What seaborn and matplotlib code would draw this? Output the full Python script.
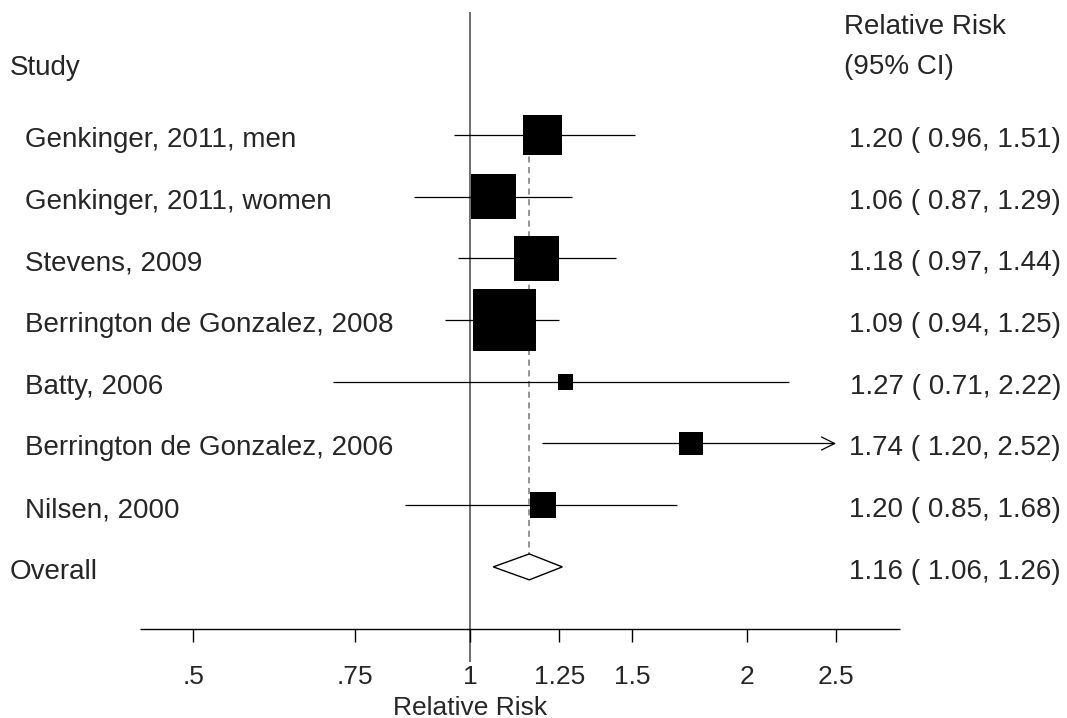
import numpy as np
import matplotlib
matplotlib.use("Agg")
import matplotlib.pyplot as plt
import seaborn as sns

# ---- data ----
studies = ["Genkinger, 2011, men", "Genkinger, 2011, women", "Stevens, 2009",
           "Berrington de Gonzalez, 2008", "Batty, 2006",
           "Berrington de Gonzalez, 2006", "Nilsen, 2000"]
rr = [1.20, 1.06, 1.18, 1.09, 1.27, 1.74, 1.20]
lower = [0.96, 0.87, 0.97, 0.94, 0.71, 1.20, 0.85]
upper = [1.51, 1.29, 1.44, 1.25, 2.22, 2.52, 1.68]
weights = [14.0, 18.5, 18.4, 35.4, 2.2, 5.2, 6.2]  # % weight, from box areas

overall_rr = 1.16
overall_lower = 1.06
overall_upper = 1.26

tick_vals = [0.5, 0.75, 1, 1.25, 1.5, 2, 2.5]
tick_labels = [".5", ".75", "1", "1.25", "1.5", "2", "2.5"]
ci_max = 2.5  # CIs beyond this get an arrow

# ---- layout (pixel geometry of the original) ----
W, H = 1067, 718
x0_px, px_per_ln = 470, 399.5
row0_px, row_px = 135, 61.7

sns.set_style("white")
plt.rcParams["font.family"] = ["Liberation Sans", "DejaVu Sans"]

fig = plt.figure(figsize=(W / 100, H / 100), dpi=100)
ax = fig.add_axes([0, 0, 1, 1])
ax.set_xscale("log")
ax.set_xlim(np.exp(-x0_px / px_per_ln), np.exp((W - x0_px) / px_per_ln))
ax.set_ylim((H - row0_px) / row_px, -row0_px / row_px)
ax.axis("off")

rows = np.arange(len(studies))
overall_row = len(studies)
axis_row = overall_row + 1
ytr = ax.get_yaxis_transform()

# null line and overall dashed line
ax.vlines(1, -1.99, axis_row + 0.54, color="#555555", lw=1.2, zorder=1)
ax.vlines(overall_rr, 0, overall_row, color="#777777", lw=1.1,
          linestyles=(0, (4, 3)), zorder=1)

# confidence intervals
for r, lo, hi in zip(rows, lower, upper):
    if hi > ci_max:
        ax.annotate("", xy=(ci_max, r), xytext=(lo, r),
                    arrowprops=dict(arrowstyle="->,head_length=0.95,head_width=0.47",
                                    lw=0.9, color="black", shrinkA=0, shrinkB=0,
                                    mutation_scale=10), zorder=2)
    else:
        ax.hlines(r, lo, hi, color="black", lw=0.9, zorder=2)

# weighted boxes
k = 57.15
sns.scatterplot(x=rr, y=rows, size=weights, sizes=(k * min(weights), k * max(weights)),
                size_norm=(min(weights), max(weights)), marker="s", color="black",
                linewidth=0, legend=False, ax=ax, zorder=3)

# overall diamond
h = 0.21
ax.fill([overall_lower, overall_rr, overall_upper, overall_rr],
        [overall_row, overall_row - h, overall_row, overall_row + h],
        facecolor="white", edgecolor="black", lw=1, zorder=2)

# x axis
ax.hlines(axis_row, np.exp((140 - x0_px) / px_per_ln), np.exp((900 - x0_px) / px_per_ln),
          color="black", lw=1)
ax.vlines(tick_vals, axis_row, axis_row + 0.21, color="black", lw=1)
for v, lab in zip(tick_vals, tick_labels):
    ax.text(v, axis_row + 0.89, lab, ha="center", va="baseline", fontsize=19)
ax.text(1, axis_row + 1.40, "Relative Risk", ha="center", va="baseline", fontsize=19)

# left column
base = 0.194
ax.text(10 / W, -0.97, "Study", transform=ytr, ha="left", va="baseline", fontsize=20)
for r, s in zip(rows, studies):
    ax.text(25 / W, r + base, s, transform=ytr, ha="left", va="baseline", fontsize=20)
ax.text(10 / W, overall_row + base, "Overall", transform=ytr, ha="left",
        va="baseline", fontsize=20)

# right column
ax.text(844 / W, -1.64, "Relative Risk", transform=ytr, ha="left", va="baseline", fontsize=20)
ax.text(844 / W, -0.99, "(95% CI)", transform=ytr, ha="left", va="baseline", fontsize=20)
for r, e, lo, hi in zip(rows, rr, lower, upper):
    ax.text(1061 / W, r + base, f"{e:.2f} ({lo:5.2f}, {hi:.2f})", transform=ytr,
            ha="right", va="baseline", fontsize=20)
ax.text(1061 / W, overall_row + base,
        f"{overall_rr:.2f} ({overall_lower:5.2f}, {overall_upper:.2f})",
        transform=ytr, ha="right", va="baseline", fontsize=20)

fig.savefig("out.png", dpi=100)
